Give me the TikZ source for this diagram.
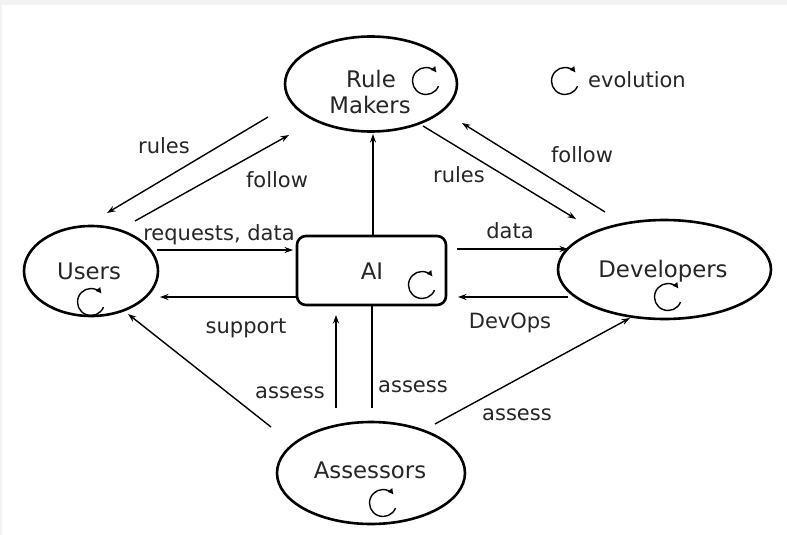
\documentclass[tikz,border=0pt]{standalone}
\usepackage{fontspec}
\setmainfont{DejaVu Sans}
\usetikzlibrary{arrows.meta,shapes.geometric}
\begin{document}
\begin{tikzpicture}[x=1pt,y=-1pt,
  ell/.style={draw,line width=2.6pt,ellipse,inner sep=0pt},
  conn/.style={line width=1.4pt,-{Stealth[length=8.5pt,width=6pt]}},
  plainline/.style={line width=1.4pt},
  nlab/.style={font=\fontsize{22.8}{27}\selectfont,anchor=base,inner sep=0pt,text=black!85},
  elab/.style={font=\fontsize{21}{25}\selectfont,anchor=base,inner sep=0pt,text=black!85},
  cyc/.pic={\draw[line width=1.4pt,-{Latex[length=6pt,width=6.5pt]}] (-22:13.5pt) arc[start angle=-22,end angle=-322,radius=13.5pt];}
  ]
\useasboundingbox (0,0) rectangle (787,535);
\fill[black!5] (0,0) rectangle (787,535);
\fill[white] (2,5) rectangle (787,535);

% main shapes
\node[ell,minimum width=172pt,minimum height=95pt] (rm) at (371,84) {};
\node[ell,minimum width=134pt,minimum height=90pt] (users) at (91,271) {};
\node[ell,minimum width=213pt,minimum height=99pt] (dev) at (664.5,269.5) {};
\node[ell,minimum width=188pt,minimum height=102pt] (ass) at (371,473) {};
\node[draw,line width=2.6pt,rounded corners=9pt,minimum width=149pt,minimum height=69pt,inner sep=0pt] (ai) at (371.5,270.5) {};

% node texts
\node[nlab] (rmtA) at (371,87) {Rule};
\node[nlab] (rmtB) at (370,113) {Makers};
\node[nlab] (userst) at (89,279) {Users};
\node[nlab] (ait) at (372,279) {AI};
\node[nlab] (devt) at (663,277) {Developers};
\node[nlab] (asst) at (370,478) {Assessors};

% evolution icons
\pic at (426,81) {cyc};
\pic at (91,302) {cyc};
\pic at (422,285) {cyc};
\pic at (668,297) {cyc};
\pic at (383,503) {cyc};
\pic at (565,81) {cyc};
\node[elab] (evo) at (637,88) {evolution};

% connector end points
\coordinate (rlA) at (268,117);  \coordinate (rlB) at (107,213);
\coordinate (flA) at (135,221);  \coordinate (flB) at (289,135);
\coordinate (rqA) at (157,250);  \coordinate (rqB) at (293,250);
\coordinate (spA) at (296,297);  \coordinate (spB) at (160,297);
\coordinate (upA) at (373,236);  \coordinate (upB) at (373,134);
\coordinate (dtA) at (457,249);  \coordinate (dtB) at (568,249);
\coordinate (doA) at (568,297);  \coordinate (doB) at (458,297);
\coordinate (rrA) at (423,126);  \coordinate (rrB) at (576,219);
\coordinate (frA) at (605,212);  \coordinate (frB) at (462,123);
\coordinate (auA) at (271,427);  \coordinate (auB) at (128,314);
\coordinate (aaA) at (336,408);  \coordinate (aaB) at (336,315);
\coordinate (alA) at (372,305);  \coordinate (alB) at (372,408);
\coordinate (adA) at (435,424);  \coordinate (adB) at (630,318);

\draw[conn] (rlA) -- (rlB);
\draw[conn] (flA) -- (flB);
\draw[conn] (rqA) -- (rqB);
\draw[conn] (spA) -- (spB);
\draw[conn] (upA) -- (upB);
\draw[conn] (dtA) -- (dtB);
\draw[conn] (doA) -- (doB);
\draw[conn] (rrA) -- (rrB);
\draw[conn] (frA) -- (frB);
\draw[conn] (auA) -- (auB);
\draw[conn] (aaA) -- (aaB);
\draw[plainline] (alA) -- (alB);
\draw[conn] (adA) -- (adB);

% connector labels
\node[elab] (lrl) at (164,153) {rules};
\node[elab] (lfl) at (277,187) {follow};
\node[elab] (lrq) at (219,240) {requests, data};
\node[elab] (lsp) at (246,333) {support};
\node[elab] (ldt) at (510,238) {data};
\node[elab] (ldo) at (510,328) {DevOps};
\node[elab] (lrr) at (459,182) {rules};
\node[elab] (lfr) at (582,162) {follow};
\node[elab] (laa) at (290,398) {assess};
\node[elab] (lal) at (413,392) {assess};
\node[elab] (lad) at (517,420) {assess};
\end{tikzpicture}
\end{document}
